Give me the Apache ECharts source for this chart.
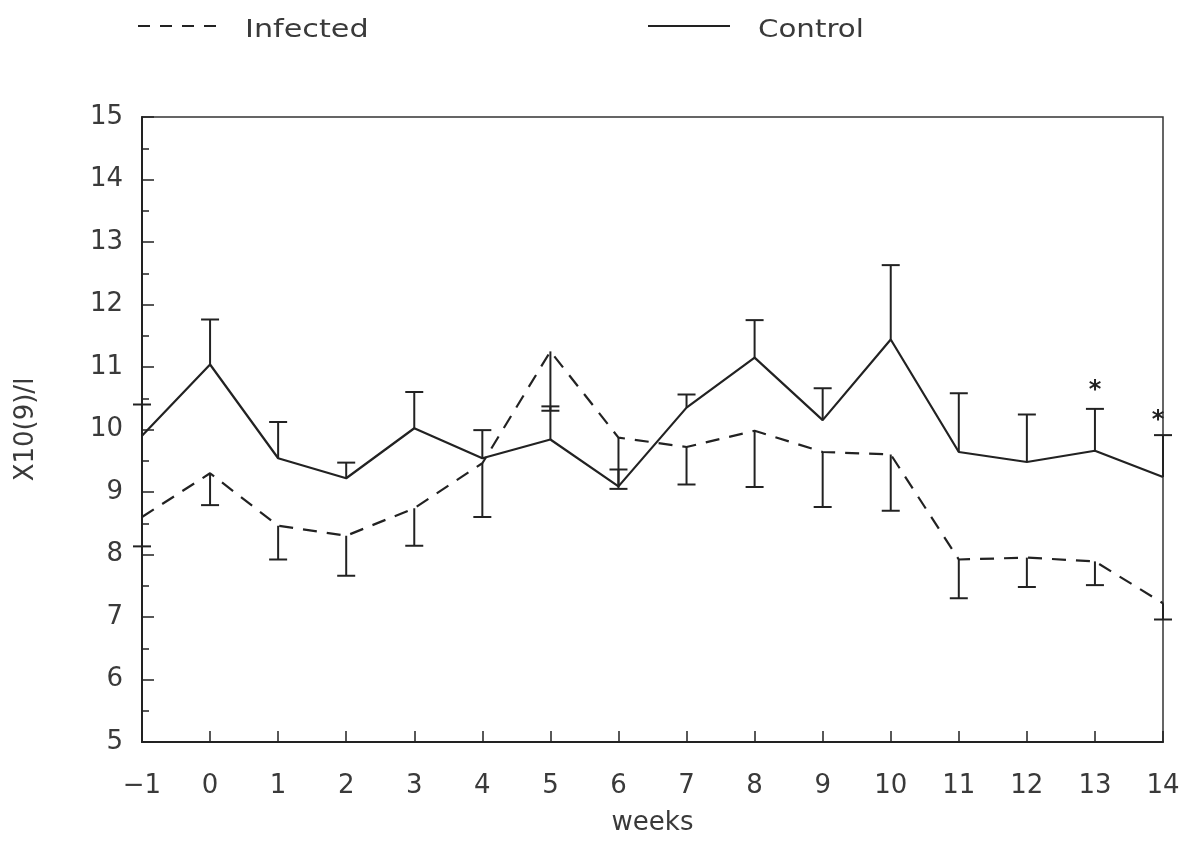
<!DOCTYPE html>
<html>
<head>
<meta charset="utf-8">
<title>Infected vs Control</title>
<script src="https://cdn.jsdelivr.net/npm/echarts@6/dist/echarts.min.js"></script>
<style>
  html, body { margin: 0; padding: 0; background: #fff; }
  #chart { width: 1188px; height: 842px; }
</style>
</head>
<body>
<div id="chart"></div>
<script>
// Weekly counts, x10(9)/l, mean with one-sided error bars
const weeks = [-1, 0, 1, 2, 3, 4, 5, 6, 7, 8, 9, 10, 11, 12, 13, 14];
const control = [9.9, 11.04, 9.54, 9.22, 10.02, 9.54, 9.84, 9.09, 10.35, 11.15, 10.15, 11.44, 9.64, 9.48, 9.66, 9.24];
const controlUpper = [10.4, 11.76, 10.12, 9.47, 10.6, 9.99, 10.37, 9.36, 10.56, 11.75, 10.66, 12.63, 10.58, 10.24, 10.33, 9.91];
const infected = [8.6, 9.3, 8.46, 8.3, 8.74, 9.46, 11.25, 9.87, 9.72, 9.98, 9.64, 9.6, 7.92, 7.95, 7.89, 7.22];
const infectedLower = [8.13, 8.79, 7.92, 7.66, 8.14, 8.6, 10.3, 9.05, 9.12, 9.08, 8.76, 8.7, 7.3, 7.48, 7.51, 6.96];
const starredWeeks = [13, 14];
const seriesNames = ['Infected', 'Control'];

const INK = '#222';
const TEXT = '#3a3a3a';
const FONT = '"DejaVu Sans", sans-serif';

function errorBar(starred) {
  return function (params, api) {
    const w = api.value(0);
    const p0 = api.coord([w, api.value(1)]);
    const p1 = api.coord([w, api.value(2)]);
    const half = 9;
    const children = [
      { type: 'line', shape: { x1: p0[0], y1: p0[1], x2: p1[0], y2: p1[1] },
        style: { stroke: INK, lineWidth: 2 } },
      { type: 'line', shape: { x1: p1[0] - half, y1: p1[1], x2: p1[0] + half, y2: p1[1] },
        style: { stroke: INK, lineWidth: 2 } }
    ];
    if (starred && starredWeeks.indexOf(w) >= 0) {
      const atEdge = w === weeks[weeks.length - 1];
      children.push({
        type: 'text',
        style: {
          text: '*', x: p1[0] - (atEdge ? 5 : 0), y: p1[1] - (atEdge ? 14 : 18),
          fill: INK, font: 'bold 24px ' + FONT, align: 'center', verticalAlign: 'middle'
        }
      });
    }
    return { type: 'group', children: children };
  };
}

const chart = echarts.init(document.getElementById('chart'), null, { renderer: 'canvas' });

chart.setOption({
  animation: false,
  backgroundColor: '#fff',
  grid: { left: 142, right: 25, top: 117, bottom: 100, show: true, borderColor: '#333', borderWidth: 1.5 },
  xAxis: {
    type: 'value', min: -1, max: 14, interval: 1,
    name: 'weeks', nameLocation: 'middle', nameGap: 68,
    nameTextStyle: { fontFamily: FONT, fontSize: 26, color: TEXT },
    axisLine: { show: true, onZero: false, lineStyle: { color: INK, width: 2 } },
    axisTick: { show: true, inside: true, length: 11, lineStyle: { color: INK, width: 1.5 } },
    axisLabel: {
      margin: 31, fontFamily: FONT, fontSize: 26, color: TEXT,
      formatter: v => String(v).replace('-', '\u2212')
    },
    splitLine: { show: false }
  },
  yAxis: {
    type: 'value', min: 5, max: 15, interval: 1,
    name: 'X10(9)/l', nameLocation: 'middle', nameGap: 103, nameRotate: 90,
    nameTextStyle: { fontFamily: FONT, fontSize: 26, color: TEXT },
    axisLine: { show: true, onZero: false, lineStyle: { color: INK, width: 2 } },
    axisTick: { show: true, inside: true, length: 12, lineStyle: { color: INK, width: 1.5 } },
    minorTick: { show: true, splitNumber: 2, length: 7, lineStyle: { color: INK, width: 1.5 } },
    axisLabel: { margin: 19, fontFamily: FONT, fontSize: 26, color: TEXT },
    splitLine: { show: false }
  },
  series: [
    {
      name: seriesNames[0], type: 'line', symbol: 'none',
      data: weeks.map((w, i) => [w, infected[i]]),
      lineStyle: { color: INK, width: 2.2, type: [14, 10] }, z: 3
    },
    {
      name: seriesNames[1], type: 'line', symbol: 'none',
      data: weeks.map((w, i) => [w, control[i]]),
      lineStyle: { color: INK, width: 2.2, type: 'solid' }, z: 3
    },
    {
      name: seriesNames[0] + ' SE', type: 'custom', z: 4,
      renderItem: errorBar(false),
      data: weeks.map((w, i) => [w, infected[i], infectedLower[i]])
    },
    {
      name: seriesNames[1] + ' SE', type: 'custom', z: 4,
      renderItem: errorBar(true),
      data: weeks.map((w, i) => [w, control[i], controlUpper[i]])
    }
  ],
  graphic: [
    // line-style key above the plot
    { type: 'line', shape: { x1: 138, y1: 26, x2: 220, y2: 26 },
      style: { stroke: INK, lineWidth: 2, lineDash: [12, 10] } },
    { type: 'text', x: 245, y: 31, scaleX: 1.26,
      style: { text: seriesNames[0], font: '24px ' + FONT, fill: TEXT, verticalAlign: 'middle' } },
    { type: 'line', shape: { x1: 648, y1: 26, x2: 730, y2: 26 },
      style: { stroke: INK, lineWidth: 2 } },
    { type: 'text', x: 758, y: 31, scaleX: 1.22,
      style: { text: seriesNames[1], font: '24px ' + FONT, fill: TEXT, verticalAlign: 'middle' } }
  ]
});
</script>
</body>
</html>
